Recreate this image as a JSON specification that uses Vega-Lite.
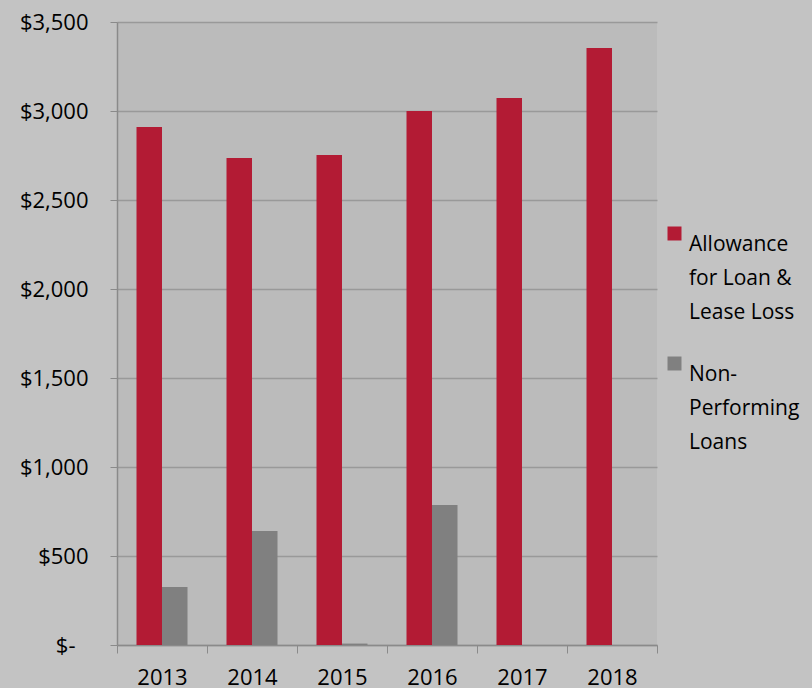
{
  "$schema": "https://vega.github.io/schema/vega-lite/v6.json",
  "width": 540,
  "height": 623,
  "autosize": {"type": "none"},
  "padding": {"left": 117, "top": 22, "right": 155, "bottom": 43},
  "background": "#c3c3c3",
  "config": {
    "view": {"fill": "#bbbbbb", "stroke": null},
    "font": "Open Sans",
    "style": {"guide-label": {"lineHeight": 34}}
  },
  "data": {
    "values": [
      {"year": "2013", "series": "Allowance for Loan & Lease Loss", "value": 2910},
      {"year": "2013", "series": "Non-Performing Loans", "value": 326},
      {"year": "2014", "series": "Allowance for Loan & Lease Loss", "value": 2736},
      {"year": "2014", "series": "Non-Performing Loans", "value": 640},
      {"year": "2015", "series": "Allowance for Loan & Lease Loss", "value": 2753},
      {"year": "2015", "series": "Non-Performing Loans", "value": 8},
      {"year": "2016", "series": "Allowance for Loan & Lease Loss", "value": 3000},
      {"year": "2016", "series": "Non-Performing Loans", "value": 786},
      {"year": "2017", "series": "Allowance for Loan & Lease Loss", "value": 3073},
      {"year": "2017", "series": "Non-Performing Loans", "value": 0},
      {"year": "2018", "series": "Allowance for Loan & Lease Loss", "value": 3354},
      {"year": "2018", "series": "Non-Performing Loans", "value": 0}
    ]
  },
  "mark": {"type": "bar"},
  "encoding": {
    "x": {
      "field": "year",
      "type": "nominal",
      "scale": {"paddingInner": 0, "paddingOuter": 0},
      "axis": {
        "title": null,
        "labelAngle": 0,
        "labelFontSize": 22,
        "labelColor": "#000000",
        "labelPadding": 14,
        "tickBand": "extent",
        "tickSize": 8,
        "tickColor": "#8a8a8a",
        "domainColor": "#8a8a8a",
        "domainWidth": 1.5,
        "grid": false
      }
    },
    "xOffset": {
      "field": "series",
      "type": "nominal",
      "scale": {"paddingInner": 0, "paddingOuter": 0.765}
    },
    "y": {
      "field": "value",
      "type": "quantitative",
      "scale": {"domain": [0, 3500], "nice": false},
      "axis": {
        "title": null,
        "values": [0, 500, 1000, 1500, 2000, 2500, 3000, 3500],
        "labelExpr": "datum.value == 0 ? '$-' : '$' + format(datum.value, ',')",
        "labelFontSize": 22,
        "labelColor": "#000000",
        "labelPadding": {"condition": {"test": "datum.value == 0", "value": 35}, "value": 22},
        "tickSize": 7,
        "tickColor": "#8a8a8a",
        "domainColor": "#8a8a8a",
        "domainWidth": 1.5,
        "grid": true,
        "gridColor": "#999999",
        "gridWidth": 1.5
      }
    },
    "color": {
      "field": "series",
      "type": "nominal",
      "scale": {"range": ["#b31b34", "#808080"]},
      "legend": {
        "title": null,
        "orient": "none",
        "legendX": 547,
        "legendY": 201,
        "symbolType": "square",
        "symbolSize": 196,
        "symbolStrokeWidth": 0,
        "labelFontSize": 21,
        "labelColor": "#000000",
        "labelLimit": 300,
        "labelOffset": 4,
        "rowPadding": 30,
        "labelBaseline": "top",
        "labelExpr": "datum.label == 'Allowance for Loan & Lease Loss' ? ['Allowance', 'for Loan &', 'Lease Loss'] : ['Non-', 'Performing', 'Loans']"
      }
    }
  }
}
